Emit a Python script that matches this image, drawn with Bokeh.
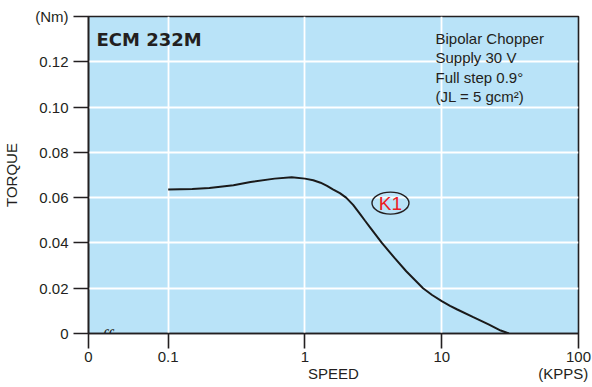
from bokeh.plotting import figure
from bokeh.models import FixedTicker, Label, ColumnDataSource, LogAxis
from bokeh.core.properties import value
from bokeh.embed import file_html
from bokeh.resources import INLINE

# ---- data ----
speed = [0.1, 0.15, 0.2, 0.3, 0.4, 0.6, 0.8, 1.0, 1.15, 1.3, 1.45, 1.6, 1.8, 2.0,
         2.25, 2.5, 2.75, 3.0, 3.65, 4.5, 5.5, 7.3, 8.5, 10, 11.5, 13, 17, 22, 27, 31]
torque = [0.0636, 0.0638, 0.0643, 0.0655, 0.0669, 0.0684, 0.0690, 0.0684, 0.0677,
          0.0666, 0.0652, 0.0637, 0.0620, 0.0600, 0.0568, 0.0532, 0.0498, 0.0468,
          0.0400, 0.0335, 0.0275, 0.0200, 0.0170, 0.0143, 0.0122, 0.0106, 0.0072,
          0.0040, 0.0013, 0.0]
x_ticks = [0.02614, 0.1, 1, 10, 100]
x_tick_labels = ["0", "0.1", "1", "10", "100"]
y_ticks = [0, 0.02, 0.04, 0.06, 0.08, 0.10, 0.12, 0.14]
y_tick_labels = ["0", "0.02", "0.04", "0.06", "0.08", "0.10", "0.12", "(Nm)"]
x_title_pos = [1.615, 77.5]
x_titles = ["SPEED", "(KPPS)"]
y_title = "TORQUE"
title_text = "ECM 232M"
info_lines = ["Bipolar Chopper", "Supply 30 V", "Full step 0.9°", "(JL = 5 gcm²)"]
curve_name = "K1"
curve_label_pos = (4.22, 0.0576)

TXT = "#231f20"
FONT = "Liberation Sans"

p = figure(width=592, height=387, x_axis_type="log",
           x_range=(x_ticks[0], 100), y_range=(0, 0.14),
           output_backend="svg", toolbar_location=None,
           min_border_left=88, min_border_right=14,
           min_border_top=16, min_border_bottom=54)

p.border_fill_color = "#ffffff"
p.background_fill_color = "#b9e3f8"
p.outline_line_color = TXT
p.outline_line_width = 1.6

# axes
p.xaxis.ticker = FixedTicker(ticks=x_ticks)
p.xaxis.major_label_overrides = {t: l for t, l in zip(x_ticks, x_tick_labels)}
p.yaxis.ticker = FixedTicker(ticks=y_ticks)
p.yaxis.major_label_overrides = {t: l for t, l in zip(y_ticks, y_tick_labels)}
for ax in (p.xaxis, p.yaxis):
    ax.axis_line_color = TXT
    ax.axis_line_width = 1.6
    ax.major_tick_line_color = TXT
    ax.major_tick_line_width = 1.6
    ax.major_tick_in = 0
    ax.major_tick_out = 15
    ax.minor_tick_line_color = None
    ax.major_label_text_font = FONT
    ax.major_label_text_font_size = "15px"
    ax.major_label_text_color = TXT
    ax.axis_label_text_font = FONT
    ax.axis_label_text_font_size = "15px"
    ax.axis_label_text_font_style = "normal"
    ax.axis_label_text_color = TXT
p.yaxis.axis_label = y_title
p.xaxis.major_label_standoff = 3
p.yaxis.major_label_standoff = 5
p.yaxis.axis_label_standoff = 12

# second row under the x axis: "SPEED" and "(KPPS)"
ax2 = LogAxis(ticker=FixedTicker(ticks=x_title_pos),
              major_label_overrides={t: l for t, l in zip(x_title_pos, x_titles)},
              axis_line_color=None, major_tick_line_color=None,
              minor_tick_line_color=None, major_tick_in=0, major_tick_out=0,
              major_label_standoff=0, major_label_text_font=FONT,
              major_label_text_font_size="15px", major_label_text_color=TXT)
p.add_layout(ax2, "below")

# grid
p.xgrid.ticker = FixedTicker(ticks=x_ticks[1:-1])
p.ygrid.ticker = FixedTicker(ticks=y_ticks[1:-1])
for g in (p.xgrid, p.ygrid):
    g.grid_line_color = "white"
    g.grid_line_width = 1.8

# curve
src = ColumnDataSource(dict(x=speed, y=torque))
p.line("x", "y", source=src, line_color="#1a1a1a", line_width=2)

# K1 label with ellipse
p.ellipse(x=[curve_label_pos[0]], y=[curve_label_pos[1]], width=37, height=22,
          width_units="screen", height_units="screen",
          fill_color=None, line_color=TXT, line_width=1.4)
p.text(x=[curve_label_pos[0]], y=[curve_label_pos[1]], text=[curve_name],
       text_color="#ed1c24", text_font=value(FONT), text_font_size="19px",
       text_align="center", text_baseline="middle")

# title inside plot
p.add_layout(Label(x=x_ticks[0], y=0.14, x_offset=8, y_offset=-23.3, text=title_text,
                   text_baseline="alphabetic",
                   text_font="DejaVu Sans", text_font_style="bold",
                   text_font_size="18px", text_color=TXT))

# info block
for i, line in enumerate(info_lines):
    p.add_layout(Label(x=x_ticks[0], y=0.14, x_offset=347, y_offset=-21.7 - 19.4 * i,
                       text=line, text_baseline="alphabetic",
                       text_font=FONT, text_font_size="15px", text_color=TXT))

# axis break mark
p.add_layout(Label(x=x_ticks[0], y=0, x_offset=13, y_offset=-3, text="ff",
                   text_baseline="alphabetic",
                   text_font="Liberation Serif", text_font_style="italic",
                   text_font_size="19px", text_color=TXT))

open("out.html", "w").write(file_html(p, INLINE))
